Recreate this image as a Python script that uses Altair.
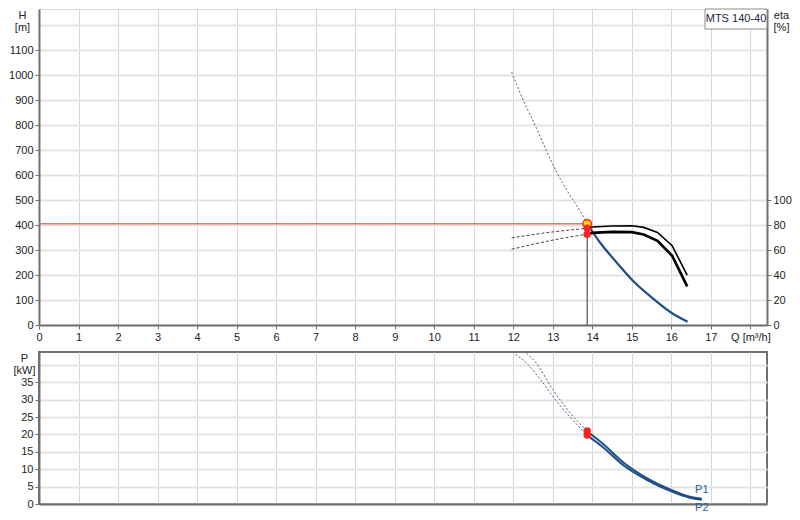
import altair as alt
import pandas as pd

# ---------------- data ----------------
Q_TICKS = list(range(0, 19))
H_TICKS = list(range(0, 1201, 100))
ETA_TICKS = [0, 20, 40, 60, 80, 100]
P_TICKS = list(range(0, 41, 5))

Q_OP = 13.87
H_OP = 405
ETA1_OP = 77.5
ETA2_OP = 72.8
P1_OP = 21.0
P2_OP = 19.8

# H curve, extrapolated (dotted) part
h_dot_q = [11.96, 12.25, 12.58, 12.83, 13.07, 13.41, 13.74, 13.87]
h_dot_h = [1011, 900, 790, 700, 620, 525, 443, 405]
# H curve, solid part
h_q = [13.87, 14.19, 14.61, 15.02, 15.52, 16.04, 16.41]
h_h = [405, 331, 251, 178, 108, 45, 13]

# eta curves
eta_q = [13.87, 14.0, 14.5, 15.0, 15.3, 15.65, 16.02, 16.4]
eta1 = [77.5, 78.5, 79.3, 79.5, 78.2, 74.2, 63.5, 40.0]
eta2 = [72.8, 73.8, 74.6, 74.4, 72.5, 67.5, 55.5, 31.0]
eta_dot_q = [11.96, 12.9, 13.87]
eta1_dot = [69.8, 74.2, 77.5]
eta2_dot = [60.7, 67.4, 72.8]

# power curves
p1_dot_q = [12.2, 12.29, 12.58, 13.0, 13.41, 13.86]
p1_dot = [45.0, 43.9, 40.5, 32.9, 26.6, 21.0]
p2_dot_q = [11.9, 11.96, 12.37, 12.75, 13.16, 13.5, 13.86]
p2_dot = [44.5, 43.9, 40.1, 34.8, 28.6, 24.2, 19.8]
p_q = [13.86, 14.24, 14.81, 15.4, 15.98, 16.47, 16.77]
p1 = [21.0, 17.6, 11.7, 7.3, 4.1, 2.1, 1.5]
p2 = [19.8, 16.6, 10.9, 6.8, 3.7, 1.8, 1.2]

MODEL = "MTS 140-40"
Q_LABEL = "Q [m\u00b3/h]"

# ---------------- style ----------------
W = 728
H_TOP = 316
H_BOT = 152
Q_MAX = 18.42
H_MAX = 1264
ETA_MAX = 253.2
P_MAX = 43.68

FONT = "Liberation Sans"
BLUE = "#1d4f85"
DOT = "#4a5f80"
GRID_H = "#e4e4e4"
GRID_V = "#d3d6d9"
AXIS_C = "#707070"
LABEL_C = "#222222"


def df(**cols):
    return pd.DataFrame(cols)


common_axis = dict(
    labelFont=FONT, labelFontSize=11, labelColor=LABEL_C,
    titleFont=FONT, titleFontSize=11, titleColor=LABEL_C, titleFontWeight="normal",
    domainColor=AXIS_C, domainWidth=2, tickColor=AXIS_C, tickSize=4,
    labelOverlap=False, labelFlush=False, format="d",
)

x_axis_top = alt.Axis(
    values=Q_TICKS, grid=True, gridColor=GRID_V, gridWidth=1, labelPadding=2,
    labelExpr=f"datum.value == 18 ? '{Q_LABEL}' : datum.label", title=None,
    **common_axis,
)
x_axis_bot = alt.Axis(
    values=Q_TICKS, grid=True, gridColor=GRID_V, gridWidth=1,
    labels=False, ticks=False, title=None,
    **{k: v for k, v in common_axis.items() if k not in ("tickSize",)},
)

left_axis = alt.Axis(
    values=H_TICKS, grid=True, gridColor=GRID_H, gridWidth=2, labelPadding=2,
    labelExpr="datum.value > 1100 ? '' : datum.label",
    tickOpacity={"condition": {"test": "datum.value > 1100", "value": 0}, "value": 1},
    title=["H", "[m]"], titleAngle=0, titleAlign="center", titleBaseline="top",
    titleX=-17, titleY=0, titleLineHeight=12,
    **common_axis,
)
right_axis = alt.Axis(
    orient="right", values=ETA_TICKS, grid=False, labelPadding=2,
    title=["eta", "[%]"], titleAngle=0, titleAlign="center", titleBaseline="top",
    titleX=14, titleY=0, titleLineHeight=12,
    **common_axis,
)
p_axis = alt.Axis(
    values=P_TICKS, grid=True, gridColor=GRID_H, gridWidth=2, labelPadding=2,
    labelExpr="datum.value > 35 ? '' : datum.label",
    tickOpacity={"condition": {"test": "datum.value > 35", "value": 0}, "value": 1},
    title=["P", "[kW]"], titleAngle=0, titleAlign="center", titleBaseline="top",
    titleX=-15, titleY=0, titleLineHeight=12,
    **common_axis,
)

xs = alt.Scale(domain=[0, Q_MAX], nice=False, zero=False)
X_TOP = alt.X("q:Q", scale=xs, axis=x_axis_top)
X_BOT = alt.X("q:Q", scale=xs, axis=x_axis_bot)
Y_H = alt.Y("v:Q", scale=alt.Scale(domain=[0, H_MAX], nice=False), axis=left_axis)
Y_E = alt.Y("v:Q", scale=alt.Scale(domain=[0, ETA_MAX], nice=False), axis=right_axis)
Y_P = alt.Y("v:Q", scale=alt.Scale(domain=[0, P_MAX], nice=False), axis=p_axis)

# ---------------- top panel ----------------
red_rule = alt.Chart(df(q=[0.0], q2=[Q_OP], v=[H_OP])).mark_rule(
    color="#f07070", strokeWidth=1.3
).encode(x=X_TOP, x2="q2:Q", y=Y_H)

v_rule = alt.Chart(df(q=[Q_OP], v=[0.0], v2=[H_OP])).mark_rule(
    color="#333333", strokeWidth=1
).encode(x=X_TOP, y=Y_H, y2="v2:Q")

h_dot_line = alt.Chart(df(q=h_dot_q, v=h_dot_h)).mark_line(
    color=DOT, strokeWidth=1, strokeDash=[2, 2], interpolate="monotone"
).encode(x=X_TOP, y=Y_H)

h_line = alt.Chart(df(q=h_q, v=h_h)).mark_line(
    color=BLUE, strokeWidth=2.2, interpolate="monotone"
).encode(x=X_TOP, y=Y_H)

box = alt.Chart(df(a=[0])).mark_rect(
    fill="white", stroke="#8a8a8a", strokeWidth=1
).encode(x=alt.value(W - 62), x2=alt.value(W), y=alt.value(0), y2=alt.value(20))

box_text = alt.Chart(df(t=[MODEL])).mark_text(
    font=FONT, fontSize=11, color="#1c2440", align="center", baseline="middle"
).encode(x=alt.value(W - 31), y=alt.value(10), text="t:N")

h_op = alt.Chart(df(q=[Q_OP], v=[H_OP])).mark_point(
    filled=True, fill="#ffd400", stroke="#ff3030", strokeWidth=1.5, size=75, opacity=1
).encode(x=X_TOP, y=Y_H)

eta1_dot_line = alt.Chart(df(q=eta_dot_q, v=eta1_dot)).mark_line(
    color="#444444", strokeWidth=1, strokeDash=[3, 2], interpolate="monotone"
).encode(x=X_TOP, y=Y_E)
eta2_dot_line = alt.Chart(df(q=eta_dot_q, v=eta2_dot)).mark_line(
    color="#444444", strokeWidth=1, strokeDash=[3, 2], interpolate="monotone"
).encode(x=X_TOP, y=Y_E)
eta1_line = alt.Chart(df(q=eta_q, v=eta1)).mark_line(
    color="black", strokeWidth=1.6
).encode(x=X_TOP, y=Y_E)
eta2_line = alt.Chart(df(q=eta_q, v=eta2)).mark_line(
    color="black", strokeWidth=2.7
).encode(x=X_TOP, y=Y_E)
eta_ops = alt.Chart(df(q=[Q_OP, Q_OP], v=[ETA1_OP, ETA2_OP])).mark_circle(
    color="#ff2020", size=55, opacity=1
).encode(x=X_TOP, y=Y_E)

right_layer = alt.layer(eta1_dot_line, eta2_dot_line, eta1_line, eta2_line, eta_ops)

top = alt.layer(
    alt.layer(red_rule, v_rule, h_dot_line, h_line, box, box_text, h_op),
    right_layer,
).resolve_scale(y="independent").properties(width=W, height=H_TOP)

# ---------------- bottom panel ----------------
p1_dot_line = alt.Chart(df(q=p1_dot_q, v=p1_dot)).mark_line(
    color=DOT, strokeWidth=1, strokeDash=[2, 2], interpolate="monotone", clip=True
).encode(x=X_BOT, y=Y_P)
p2_dot_line = alt.Chart(df(q=p2_dot_q, v=p2_dot)).mark_line(
    color=DOT, strokeWidth=1, strokeDash=[2, 2], interpolate="monotone", clip=True
).encode(x=X_BOT, y=Y_P)
p1_line = alt.Chart(df(q=p_q, v=p1)).mark_line(
    color=BLUE, strokeWidth=2, interpolate="monotone"
).encode(x=X_BOT, y=Y_P)
p2_line = alt.Chart(df(q=p_q, v=p2)).mark_line(
    color=BLUE, strokeWidth=2, interpolate="monotone"
).encode(x=X_BOT, y=Y_P)
p_ops = alt.Chart(df(q=[Q_OP, Q_OP], v=[P1_OP, P2_OP])).mark_circle(
    color="#ff2020", size=55, opacity=1
).encode(x=X_BOT, y=Y_P)
p1_lab = alt.Chart(df(q=[p_q[-1]], v=[p1[-1]], t=["P1"])).mark_text(
    font=FONT, fontSize=11, color="#2a5d9a", align="center", baseline="middle", dy=-9
).encode(x=X_BOT, y=Y_P, text="t:N")
p2_lab = alt.Chart(df(q=[p_q[-1]], v=[p2[-1]], t=["P2"])).mark_text(
    font=FONT, fontSize=11, color="#2a5d9a", align="center", baseline="middle", dy=8
).encode(x=X_BOT, y=Y_P, text="t:N")

bottom = alt.layer(
    p1_dot_line, p2_dot_line, p1_line, p2_line, p_ops, p1_lab, p2_lab
).properties(
    width=W, height=H_BOT,
    view=alt.ViewBackground(stroke=AXIS_C, strokeWidth=2),
)

chart = alt.vconcat(top, bottom, spacing=27, bounds="flush").properties(
    padding={"left": 0, "top": 0, "right": 0, "bottom": 0},
    background="white",
).configure_view(stroke=None).configure(font=FONT)

chart.save("out.html", embed_options={"renderer": "svg", "actions": False})
